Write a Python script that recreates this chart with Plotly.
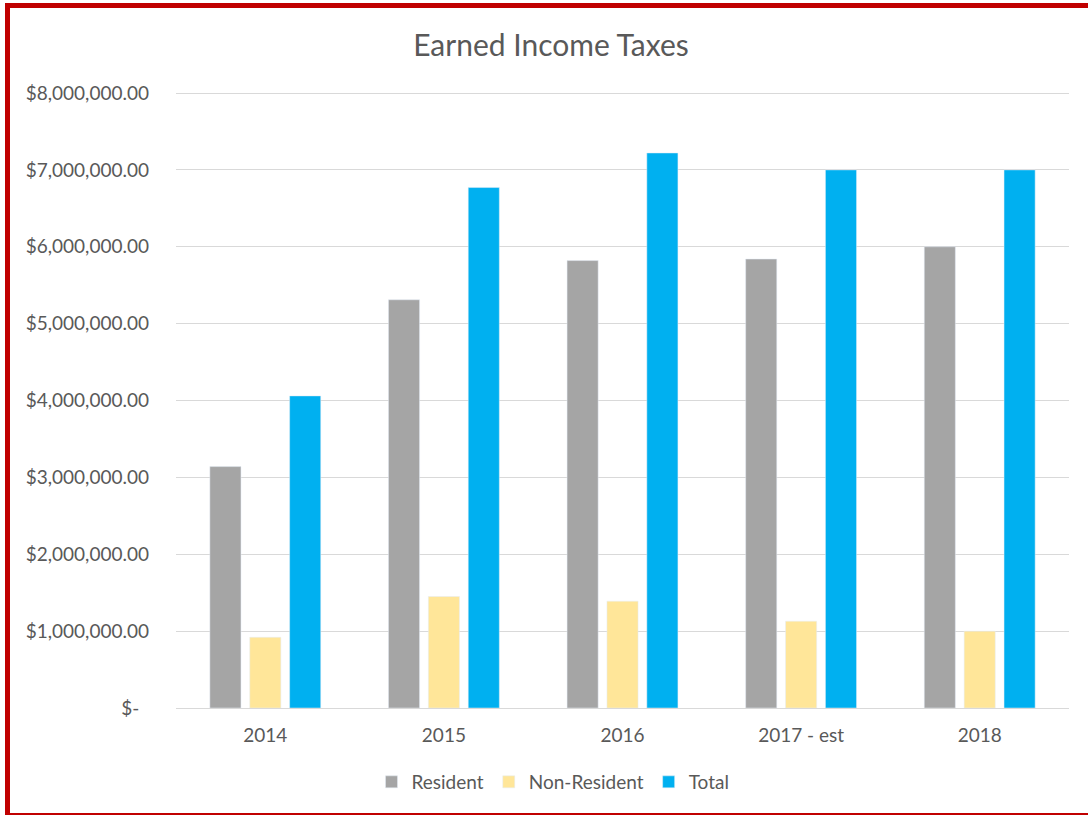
import plotly.graph_objects as go

years = ["2014", "2015", "2016", "2017 - est", "2018"]
resident = [3140000, 5310000, 5820000, 5840000, 6000000]
non_resident = [920000, 1450000, 1390000, 1130000, 1000000]
total = [4060000, 6770000, 7220000, 7000000, 7000000]

tick_vals = [0, 1000000, 2000000, 3000000, 4000000, 5000000, 6000000, 7000000, 8000000]
tick_text = ["$-  ", "$1,000,000.00", "$2,000,000.00", "$3,000,000.00", "$4,000,000.00",
             "$5,000,000.00", "$6,000,000.00", "$7,000,000.00", "$8,000,000.00"]

W, H = 1088, 815
L, R, T, B = 176, 19, 91, 107
PW, PH = W - L - R, H - T - B
Y_TOP = 8000000 * (PH / (PH - 2))  # leave room so the 8M gridline is drawn

FONT = "Lato"
TXT = "#595959"

fig = go.Figure()
fig.add_bar(x=years, y=resident, name="Resident", marker_color="#A5A5A5")
fig.add_bar(x=years, y=non_resident, name="Non-Resident", marker_color="#FFE699")
fig.add_bar(x=years, y=total, name="Total", marker_color="#00B0F0")


def px_x(px):
    return (px - L) / PW


def px_y(py):
    return (H - B - py) / PH


fig.update_layout(
    width=W, height=H,
    margin=dict(l=L, r=R, t=T, b=B),
    paper_bgcolor="white", plot_bgcolor="white",
    font=dict(family=FONT, size=19, color=TXT),
    barmode="group", bargap=0.33, bargroupgap=0.22,
    title=dict(text="Earned Income Taxes", x=551 / W, xanchor="center",
               y=1 - 45 / H, yanchor="middle",
               font=dict(family=FONT, size=30, color=TXT)),
    legend=dict(orientation="h", xref="container", yref="container",
                x=553 / W, xanchor="center", y=1 - 782 / H, yanchor="middle",
                font=dict(family=FONT, size=19, color=TXT),
                itemwidth=30, traceorder="normal"),
    xaxis=dict(showline=True, linecolor="#D9D9D9", linewidth=1,
               ticks="", ticklabelstandoff=10,
               tickfont=dict(size=19, color=TXT)),
    yaxis=dict(range=[0, Y_TOP], tickvals=tick_vals, ticktext=tick_text,
               showgrid=True, gridcolor="#D9D9D9", gridwidth=1,
               zeroline=False, ticks="", ticklabelstandoff=26,
               tickfont=dict(size=19, color=TXT)),
    shapes=[dict(type="rect", xref="paper", yref="paper", layer="above",
                 x0=px_x(7.5), x1=px_x(1100), y0=px_y(5.5), y1=px_y(815.5),
                 line=dict(color="#C00000", width=5), fillcolor="rgba(0,0,0,0)")],
)

fig.write_html("out.html")
